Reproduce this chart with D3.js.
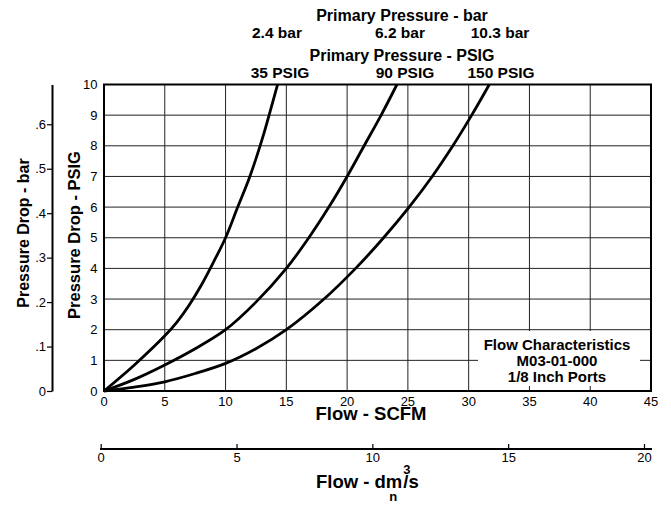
<!DOCTYPE html>
<html>
<head>
<meta charset="utf-8">
<script src="https://cdn.jsdelivr.net/npm/d3@7"></script>
<style>
  body { margin: 0; background: #fff; }
  text { font-family: "Liberation Sans", Arial, sans-serif; fill: #000; }
</style>
</head>
<body>
<script>
// ---- data ----
const psigLabels = ['35 PSIG', '90 PSIG', '150 PSIG']
const barLabels = ['2.4 bar', '6.2 bar', '10.3 bar']
const scfmTicks = [0, 5, 10, 15, 20, 25, 30, 35, 40, 45]
const dm3Ticks = [0, 5, 10, 15, 20]
const psiTicks = [0, 1, 2, 3, 4, 5, 6, 7, 8, 9, 10]
const barTicks = [0, 0.1, 0.2, 0.3, 0.4, 0.5, 0.6]

// flow (SCFM) / pressure drop (PSIG) for each primary pressure
const flow35 = [0, 2.5, 5, 6, 7, 8, 9, 10, 11, 12, 13, 14, 14.28]
const drop35 = [0, 0.85, 1.8, 2.25, 2.8, 3.45, 4.2, 5, 6, 7, 8.2, 9.6, 10]
const flow90 = [0, 2.5, 5, 7.5, 10, 12.5, 15, 16.85, 18.5, 20, 21.4, 22.8, 24.1]
const drop90 = [0, 0.38, 0.85, 1.38, 2, 2.9, 4, 5, 6, 7, 8, 9, 10]
const flow150 = [0, 2.5, 5, 7.5, 10, 12.5, 15, 18.1, 20.7, 23, 25.1, 27, 28.7, 30.25, 31.7]
const drop150 = [0, 0.13, 0.3, 0.57, 0.9, 1.38, 2, 3, 4, 5, 6, 7, 8, 9, 10]

const W = 671, H = 506
const svg = d3.create('svg').attr('width', W).attr('height', H)
document.body.appendChild(svg.node())

const x = d3.scaleLinear().domain([0, 45]).range([104, 651])
const y = d3.scaleLinear().domain([0, 10]).range([391, 84.5])
const yBar = d3.scaleLinear().domain([0, 10 / 14.5038]).range([391, 84.5])
const x2 = d3.scaleLinear().domain([0, 20]).range([100.7, 644])

// grid
svg.append('g').selectAll('line').data(scfmTicks.slice(1, -1)).join('line')
  .attr('x1', d => x(d)).attr('x2', d => x(d))
  .attr('y1', y(0)).attr('y2', y(10))
  .attr('stroke', '#222').attr('stroke-width', 1)
svg.append('g').selectAll('line').data(psiTicks.slice(1, -1)).join('line')
  .attr('x1', x(0)).attr('x2', x(45))
  .attr('y1', d => y(d)).attr('y2', d => y(d))
  .attr('stroke', '#222').attr('stroke-width', 1)

// note box covers grid
svg.append('rect')
  .attr('x', 478).attr('y', 331).attr('width', 162).attr('height', 55)
  .attr('fill', '#fff')
const note = ['Flow Characteristics', 'M03-01-000', '1/8 Inch Ports']
svg.append('g').selectAll('text').data(note).join('text')
  .attr('x', 557).attr('y', (d, i) => 350 + i * 16)
  .attr('text-anchor', 'middle')
  .attr('font-size', 15).attr('font-weight', 'bold')
  .text(d => d)

// curves
const line = d3.line().x(d => x(d[0])).y(d => y(d[1])).curve(d3.curveCatmullRom.alpha(0.5))
const curves = [d3.zip(flow35, drop35), d3.zip(flow90, drop90), d3.zip(flow150, drop150)]
svg.append('g').selectAll('path').data(curves).join('path')
  .attr('d', line)
  .attr('fill', 'none').attr('stroke', '#000').attr('stroke-width', 2.8)

// frame
svg.append('rect')
  .attr('x', x(0)).attr('y', y(10))
  .attr('width', x(45) - x(0)).attr('height', y(0) - y(10))
  .attr('fill', 'none').attr('stroke', '#000').attr('stroke-width', 2)

// tick labels main axes
svg.append('g').selectAll('text').data(psiTicks).join('text')
  .attr('x', 97.5).attr('y', d => y(d)).attr('dy', '0.36em')
  .attr('text-anchor', 'end').attr('font-size', 13)
  .text(d => d)
svg.append('g').selectAll('text').data(scfmTicks).join('text')
  .attr('x', d => x(d)).attr('y', 397).attr('dy', '0.71em')
  .attr('text-anchor', 'middle').attr('font-size', 13)
  .text(d => d)

// bar axis on the far left
const barAxis = d3.axisLeft(yBar).tickValues(barTicks).tickSize(5).tickSizeOuter(0)
  .tickFormat(d => d === 0 ? '0' : d3.format('.1f')(d).slice(1))
const gBar = svg.append('g').attr('transform', 'translate(52,0)').call(barAxis)
gBar.select('.domain').attr('stroke-width', 2)
gBar.selectAll('.tick line').attr('stroke-width', 1.2)
gBar.selectAll('.tick text').attr('font-size', 13).attr('font-family', null).attr('x', -6)

// dm3/s axis at the bottom
const dmAxis = d3.axisBottom(x2).tickValues(dm3Ticks).tickSize(-5).tickSizeOuter(0).tickPadding(4)
const gDm = svg.append('g').attr('transform', 'translate(0,449)').call(dmAxis)
gDm.select('.domain').remove()
gDm.append('line').attr('x1', 100).attr('x2', 652).attr('stroke', '#000').attr('stroke-width', 2)
gDm.selectAll('.tick line').attr('stroke-width', 1.2)
gDm.selectAll('.tick text').attr('font-size', 13).attr('font-family', null)

// titles
svg.append('text').attr('x', 371).attr('y', 420)
  .attr('text-anchor', 'middle').attr('font-size', 18.5).attr('font-weight', 'bold')
  .text('Flow - SCFM')

const t = svg.append('text').attr('x', 316).attr('y', 488)
  .attr('font-size', 18.5).attr('font-weight', 'bold').text('Flow - dm')
const len = t.node().getComputedTextLength()
svg.append('text').attr('x', 316 + len + 1).attr('y', 488)
  .attr('font-size', 18.5).attr('font-weight', 'bold').text('/s')
svg.append('text').attr('x', 316 + len + 1).attr('y', 474)
  .attr('font-size', 13).attr('font-weight', 'bold').text('3')
svg.append('text').attr('x', 316 + len - 9).attr('y', 501)
  .attr('text-anchor', 'middle').attr('font-size', 13).attr('font-weight', 'bold').text('n')

svg.append('text').attr('transform', 'translate(23,233) rotate(-90)').attr('dy', '0.35em')
  .attr('text-anchor', 'middle').attr('font-size', 16).attr('font-weight', 'bold')
  .text('Pressure Drop - bar')
svg.append('text').attr('transform', 'translate(74,235) rotate(-90)').attr('dy', '0.35em')
  .attr('text-anchor', 'middle').attr('font-size', 16.5).attr('font-weight', 'bold')
  .text('Pressure Drop - PSIG')

// primary pressure headers
svg.append('text').attr('x', 402).attr('y', 21)
  .attr('text-anchor', 'middle').attr('font-size', 16).attr('font-weight', 'bold')
  .text('Primary Pressure - bar')
svg.append('g').selectAll('text').data(barLabels).join('text')
  .attr('x', (d, i) => [277, 400, 500][i]).attr('y', 38)
  .attr('text-anchor', 'middle').attr('font-size', 15.5).attr('font-weight', 'bold')
  .text(d => d)
svg.append('text').attr('x', 402).attr('y', 61)
  .attr('text-anchor', 'middle').attr('font-size', 16).attr('font-weight', 'bold')
  .text('Primary Pressure - PSIG')
svg.append('g').selectAll('text').data(psigLabels).join('text')
  .attr('x', (d, i) => [280, 405, 501][i]).attr('y', 77.5)
  .attr('text-anchor', 'middle').attr('font-size', 15.5).attr('font-weight', 'bold')
  .text(d => d)
</script>
</body>
</html>
